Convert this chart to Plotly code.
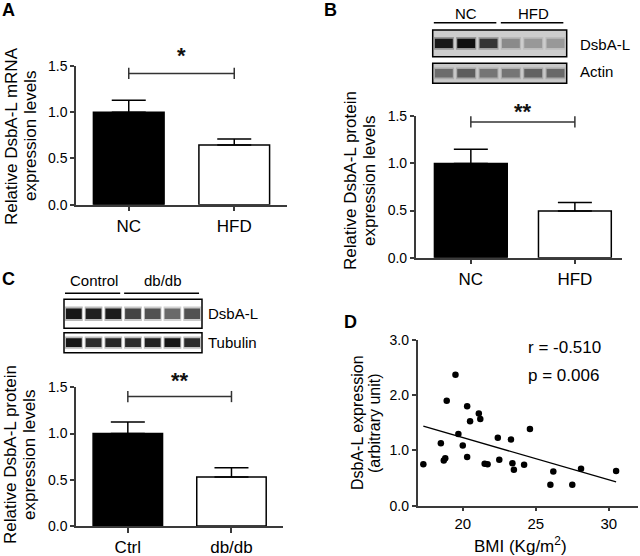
import plotly.graph_objects as go

W, H = 640, 556

# ---------------- data ----------------
a_cats = ["NC", "HFD"]
a_vals = [1.00, 0.645]
a_err = [0.13, 0.065]
a_sig = 1.42
a_star = "*"

b_cats = ["NC", "HFD"]
b_vals = [1.00, 0.495]
b_err = [0.15, 0.09]
b_sig = 1.44
b_star = "**"

c_cats = ["Ctrl", "db/db"]
c_vals = [1.00, 0.53]
c_err = [0.125, 0.10]
c_sig = 1.40
c_star = "**"

bmi = [17.3, 18.9, 18.5, 18.7, 18.8, 19.7, 20.0, 20.3, 20.5, 20.3, 21.1, 21.2,
       21.5, 21.7, 22.4, 22.5, 23.3, 23.4, 23.5, 24.2, 24.6, 26.2, 26.0, 27.5,
       28.1, 30.5, 19.5]
dsba = [0.75, 1.90, 1.13, 0.82, 0.86, 1.30, 1.09, 1.80, 1.53, 0.88, 1.67, 1.57,
        0.76, 0.75, 1.23, 0.83, 1.20, 0.77, 0.65, 0.74, 1.39, 0.62, 0.38, 0.38,
        0.67, 0.63, 2.37]
fit_x = [17.3, 30.5]
fit_y = [1.44, 0.43]
r_text = "r = -0.510"
p_text = "p = 0.006"

blot_b_groups = ["NC", "HFD"]
blot_b_group_lanes = [[1, 2, 3], [4, 5, 6]]
blot_b_rows = ["DsbA-L", "Actin"]
blot_b_dsba = [0.95, 1.00, 0.80, 0.35, 0.28, 0.28]
blot_b_actin = [0.50, 0.58, 0.45, 0.45, 0.55, 0.52]

blot_c_groups = ["Control", "db/db"]
blot_c_group_lanes = [[1, 2, 3], [4, 5, 6, 7]]
blot_c_rows = ["DsbA-L", "Tubulin"]
blot_c_dsba = [0.97, 0.93, 0.95, 0.78, 0.72, 0.62, 0.72]
blot_c_tub = [0.97, 0.88, 0.90, 0.88, 0.92, 0.97, 0.88]

# ---------------- helpers ----------------
FONT = "Liberation Sans, Arial, sans-serif"
AX = "#3a3a3a"


def px_x(a, b):
    return [a / W, b / W]


def px_y(top, bottom):
    return [1 - bottom / H, 1 - top / H]


def gray(i, bg):
    v = int(round(bg * (1 - i) + 15 * i))
    return f"rgb({v},{v},{v})"


fig = go.Figure()

panels = [
    ("x", "y", a_cats, a_vals, a_err, a_sig, a_star, 0.67, 18),
    ("x2", "y2", b_cats, b_vals, b_err, b_sig, b_star, 0.70, 10),
    ("x3", "y3", c_cats, c_vals, c_err, c_sig, c_star, 0.67, 16),
]
for xa, ya, cats, vals, err, sig, star, bw, shift in panels:
    fig.add_trace(go.Bar(
        x=cats, y=vals, width=bw, xaxis=xa, yaxis=ya,
        marker=dict(color=["black", "white"], line=dict(color="black", width=1.5)),
        error_y=dict(type="data", symmetric=False, array=err, arrayminus=[0] * len(err),
                     color="black", thickness=1.5, width=17),
        showlegend=False, hoverinfo="skip"))
    fig.add_trace(go.Scatter(
        x=cats, y=[sig, sig], mode="lines+markers", xaxis=xa, yaxis=ya,
        line=dict(color="#333", width=1.5),
        marker=dict(symbol="line-ns", size=8, line=dict(color="#333", width=1.5)),
        cliponaxis=False, showlegend=False, hoverinfo="skip"))
    fig.add_annotation(x=0.5, y=sig, xref=xa, yref=ya, text=f"<b>{star}</b>",
                       xanchor="center", yanchor="middle",
                       showarrow=False, yshift=shift, font=dict(size=22, color="#111", family=FONT))

# panel D
fig.add_trace(go.Scatter(x=bmi, y=dsba, mode="markers", xaxis="x4", yaxis="y4",
                         marker=dict(color="black", size=6.5), showlegend=False, hoverinfo="skip"))
fig.add_trace(go.Scatter(x=fit_x, y=fit_y, mode="lines", xaxis="x4", yaxis="y4",
                         line=dict(color="black", width=1.3), showlegend=False, hoverinfo="skip"))

# blots
blots = [
    ("x5", "y5", blot_b_dsba, 205, 0.34),
    ("x6", "y6", blot_b_actin, 200, 0.42),
    ("x7", "y7", blot_c_dsba, 255, 0.36),
    ("x8", "y8", blot_c_tub, 255, 0.44),
]
for xa, ya, inten, bg, h in blots:
    n = len(inten)
    lanes = list(range(1, n + 1))
    halo = [gray(i * 0.3, bg) for i in inten]
    core = [gray(i, bg) for i in inten]
    fig.add_trace(go.Bar(x=lanes, y=[h * 1.4] * n, base=[0.5 - h * 0.7] * n, width=0.9,
                         xaxis=xa, yaxis=ya, marker=dict(color=halo, line=dict(width=0)),
                         showlegend=False, hoverinfo="skip"))
    fig.add_trace(go.Bar(x=lanes, y=[h] * n, base=[0.5 - h / 2] * n, width=0.8,
                         xaxis=xa, yaxis=ya, marker=dict(color=core, line=dict(width=0)),
                         showlegend=False, hoverinfo="skip"))
    fig.add_shape(type="rect", xref=f"{xa} domain", yref=f"{ya} domain", x0=0, x1=1, y0=0, y1=1,
                  fillcolor=f"rgb({bg},{bg},{bg})", line=dict(color="black", width=1.5), layer="below")

# axes layout
bar_x = dict(showline=True, linecolor=AX, linewidth=1.5, ticks="outside", ticklen=5, tickwidth=1.5,
             tickcolor=AX, showgrid=False, zeroline=False, type="category", automargin=False,
             tickfont=dict(size=17, color="black", family=FONT))
bar_y = dict(showline=True, linecolor=AX, linewidth=1.5, ticks="outside", ticklen=4, tickwidth=1.5,
             tickcolor=AX, showgrid=False, zeroline=False, range=[0, 1.5], tickvals=[0, 0.5, 1.0, 1.5],
             tickformat=".1f", automargin=False, tickfont=dict(size=14, color="black", family=FONT))
blot_ax = dict(showline=False, showticklabels=False, ticks="", showgrid=False, zeroline=False,
               automargin=False)

layout = dict(
    width=W, height=H, margin=dict(l=0, r=0, t=0, b=0, autoexpand=False), autosize=False,
    paper_bgcolor="white", plot_bgcolor="rgba(0,0,0,0)", barmode="overlay",
    font=dict(family=FONT, color="black"),
    xaxis=dict(bar_x, domain=px_x(76, 287), range=[-0.5, 1.5], anchor="y"),
    yaxis=dict(bar_y, domain=px_y(66, 204.7), anchor="x"),
    xaxis2=dict(bar_x, domain=px_x(415.7, 621.7), range=[-0.53, 1.45], anchor="y2"),
    yaxis2=dict(bar_y, domain=px_y(116.3, 257.7), anchor="x2"),
    xaxis3=dict(bar_x, domain=px_x(76, 283.3), range=[-0.5, 1.5], anchor="y3"),
    yaxis3=dict(bar_y, domain=px_y(387.3, 526), anchor="x3"),
    xaxis4=dict(showline=True, linecolor=AX, linewidth=1.5, ticks="outside", ticklen=4, tickwidth=1.5,
                tickcolor=AX, showgrid=False, zeroline=False, range=[16.9, 32], tickvals=[20, 25, 30],
                automargin=False, tickfont=dict(size=15, color="black", family=FONT),
                domain=px_x(417.5, 638), anchor="y4"),
    yaxis4=dict(showline=True, linecolor=AX, linewidth=1.5, ticks="outside", ticklen=4, tickwidth=1.5,
                tickcolor=AX, showgrid=False, zeroline=False, range=[0, 3], tickvals=[0, 1, 2, 3],
                tickformat=".1f", automargin=False, tickfont=dict(size=14, color="black", family=FONT),
                domain=px_y(340, 505.7), anchor="x4"),
    xaxis5=dict(blot_ax, domain=px_x(432.7, 566.7), range=[0.5, 6.5], anchor="y5"),
    yaxis5=dict(blot_ax, domain=px_y(30, 56.7), range=[0, 1], anchor="x5"),
    xaxis6=dict(blot_ax, domain=px_x(432.7, 566.7), range=[0.5, 6.5], anchor="y6"),
    yaxis6=dict(blot_ax, domain=px_y(63.3, 83.3), range=[0, 1], anchor="x6"),
    xaxis7=dict(blot_ax, domain=px_x(64, 202), range=[0.5, 7.5], anchor="y7"),
    yaxis7=dict(blot_ax, domain=px_y(299.3, 328.3), range=[0, 1], anchor="x7"),
    xaxis8=dict(blot_ax, domain=px_x(64, 202), range=[0.5, 7.5], anchor="y8"),
    yaxis8=dict(blot_ax, domain=px_y(332.7, 352.7), range=[0, 1], anchor="x8"),
)
fig.update_layout(**layout)


def ann(xp, yp, text, size, xanchor="center", **kw):
    fig.add_annotation(x=xp / W, y=1 - yp / H, xref="paper", yref="paper", text=text,
                       xanchor=xanchor, yanchor="middle",
                       showarrow=False, font=dict(size=size, color="black", family=FONT), **kw)


# panel letters
ann(8, 10, "<b>A</b>", 18)
ann(330, 10, "<b>B</b>", 18)
ann(8, 279, "<b>C</b>", 18)
ann(350, 322, "<b>D</b>", 18)

# y titles (one annotation per line)
ann(11, 136, "Relative DsbA-L mRNA", 17, textangle=-90)
ann(30, 136, "expression levels", 17, textangle=-90)
ann(350, 181, "Relative DsbA-L protein", 17, textangle=-90)
ann(369, 181, "expression levels", 17, textangle=-90)
ann(10, 455, "Relative DsbA-L protein", 17, textangle=-90)
ann(29, 455, "expression levels", 17, textangle=-90)
ann(357, 423, "DsbA-L expression", 16, textangle=-90)
ann(374, 423, "(arbitrary unit)", 16, textangle=-90)
ann(520, 545, "BMI (Kg/m<sup>2</sup>)", 17)
ann(526, 347, r_text, 17, xanchor="left")
ann(526, 375, p_text, 17, xanchor="left")

# blot group labels and lines
for xa, groups, lanes, ty, ly in [("x5", blot_b_groups, blot_b_group_lanes, 13.3, 22.7),
                                  ("x7", blot_c_groups, blot_c_group_lanes, 280, 293.3)]:
    for g, ln in zip(groups, lanes):
        fig.add_annotation(x=(ln[0] + ln[-1]) / 2, y=1 - ty / H, xref=xa, yref="paper", text=g,
                           xanchor="center", yanchor="middle",
                           showarrow=False, font=dict(size=15, color="black", family=FONT))
        fig.add_shape(type="line", xref=xa, yref="paper", x0=ln[0] - 0.45, x1=ln[-1] + 0.35,
                      y0=1 - ly / H, y1=1 - ly / H, line=dict(color="black", width=1.5))

# blot row labels
ann(578, 45, blot_b_rows[0], 15, xanchor="left")
ann(578, 72, blot_b_rows[1], 15, xanchor="left")
ann(206, 313, blot_c_rows[0], 15, xanchor="left")
ann(206, 342, blot_c_rows[1], 15, xanchor="left")

fig.write_html("out.html", config={"displayModeBar": False},
               post_script="document.body.style.margin='0';document.body.style.overflow='hidden';")
